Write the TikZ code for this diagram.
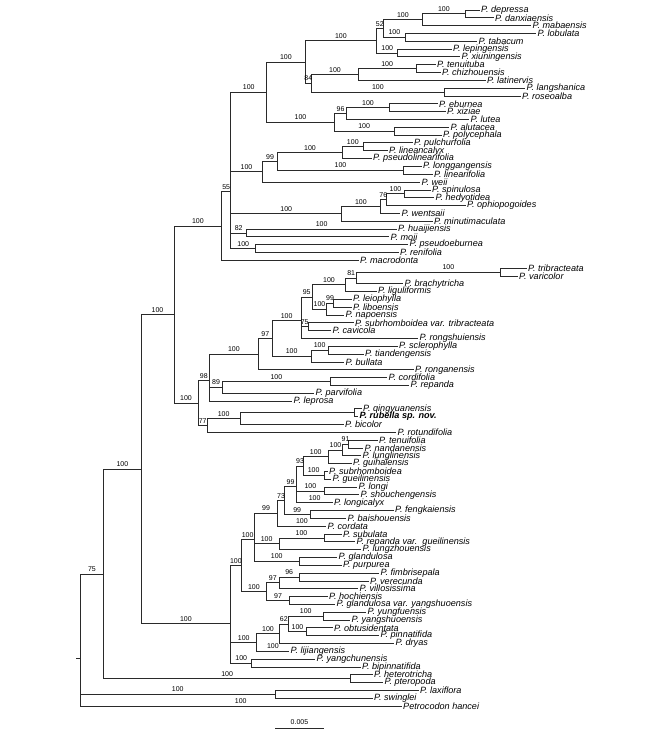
\documentclass[tikz,border=0pt]{standalone}
\usepackage{fontspec}
\setmainfont{Liberation Sans}
\definecolor{BranchGray}{HTML}{2A2A2A}
\tikzset{
  branch/.style={line width=0.8pt,draw=BranchGray},
  taxon/.style={anchor=west,inner sep=1.5pt,font=\fontsize{9.1}{10}\selectfont\itshape},
  newtaxon/.style={taxon,font=\fontsize{9.1}{10}\selectfont\bfseries\itshape},
  boot/.style={anchor=base,inner sep=0pt,yshift=2.4pt,font=\fontsize{7}{8}\selectfont},
}
\begin{document}
\begin{tikzpicture}[x=1pt,y=-1pt]
\useasboundingbox (0,0) rectangle (670,738);
% internal nodes
\coordinate (n1) at (465,13.9);
\coordinate (n2) at (422.7,19.8);
\coordinate (n3) at (405.7,37.4);
\coordinate (n4) at (383,28.6);
\coordinate (n5) at (397.7,53.0);
\coordinate (n6) at (376.7,40.8);
\coordinate (n7) at (416,68.7);
\coordinate (n8) at (358.3,74.5);
\coordinate (n9) at (444,92.1);
\coordinate (n10) at (311.7,83.3);
\coordinate (n11) at (305,62.0);
\coordinate (n12) at (389.3,107.8);
\coordinate (n13) at (346.7,113.6);
\coordinate (n14) at (394,131.2);
\coordinate (n15) at (334.3,122.4);
\coordinate (n16) at (266.7,92.2);
\coordinate (n17) at (363.3,146.9);
\coordinate (n18) at (342.3,152.7);
\coordinate (n19) at (403.3,170.3);
\coordinate (n20) at (277.7,161.5);
\coordinate (n21) at (262.3,171.8);
\coordinate (n22) at (404.3,193.8);
\coordinate (n23) at (386.7,199.7);
\coordinate (n24) at (380,206.5);
\coordinate (n25) at (341.7,213.8);
\coordinate (n26) at (246.7,232.9);
\coordinate (n27) at (255.7,248.5);
\coordinate (n28) at (230.7,191.8);
\coordinate (n29) at (221.7,226.0);
\coordinate (n30) at (500,272.0);
\coordinate (n31) at (356.7,277.9);
\coordinate (n32) at (345.7,284.7);
\coordinate (n33) at (333.3,303.3);
\coordinate (n34) at (326.7,309.1);
\coordinate (n35) at (312.3,296.9);
\coordinate (n36) at (308.3,326.7);
\coordinate (n37) at (301,320.7);
\coordinate (n38) at (328.3,350.2);
\coordinate (n39) at (311,356.1);
\coordinate (n40) at (272.3,338.4);
\coordinate (n41) at (258.3,354.0);
\coordinate (n42) at (330,381.5);
\coordinate (n43) at (222.7,387.3);
\coordinate (n44) at (209.5,380.8);
\coordinate (n45) at (354,412.7);
\coordinate (n46) at (240,418.6);
\coordinate (n47) at (207.3,425.5);
\coordinate (n48) at (198,403.1);
\coordinate (n49) at (174,314.6);
\coordinate (n50) at (348.3,444.0);
\coordinate (n51) at (342.7,449.9);
\coordinate (n52) at (328.3,456.7);
\coordinate (n53) at (324,475.3);
\coordinate (n54) at (303.3,466.0);
\coordinate (n55) at (324,490.9);
\coordinate (n56) at (296.7,486.5);
\coordinate (n57) at (310,514.4);
\coordinate (n58) at (284.3,500.5);
\coordinate (n59) at (277.7,513.3);
\coordinate (n60) at (324,537.9);
\coordinate (n61) at (279,543.7);
\coordinate (n62) at (299.3,561.3);
\coordinate (n63) at (254.3,539.4);
\coordinate (n64) at (299.3,577.0);
\coordinate (n65) at (279,582.8);
\coordinate (n66) at (289.3,600.4);
\coordinate (n67) at (266.7,591.6);
\coordinate (n68) at (241,565.5);
\coordinate (n69) at (323.3,616.1);
\coordinate (n70) at (306.7,631.7);
\coordinate (n71) at (288.3,623.9);
\coordinate (n72) at (279.3,633.7);
\coordinate (n73) at (256.7,642.4);
\coordinate (n74) at (251.7,663.0);
\coordinate (n75) at (230.7,623.6);
\coordinate (n76) at (141,469.1);
\coordinate (n77) at (350.4,678.6);
\coordinate (n78) at (103.8,573.9);
\coordinate (n79) at (275.6,694.3);
\coordinate (root) at (80,658.0);
\coordinate (rootstub) at (76,658.0);
% taxa
\node[taxon] (depressa) at (479.5,10.0) {P. depressa};
\node[taxon] (danxiaensis) at (493.5,17.8) {P. danxiaensis};
\node[taxon] (mabaensis) at (531,25.6) {P. mabaensis};
\node[taxon] (lobulata) at (536,33.5) {P. lobulata};
\node[taxon] (tabacum) at (477,41.3) {P. tabacum};
\node[taxon] (lepingensis) at (451.5,49.1) {P. lepingensis};
\node[taxon] (xiuningensis) at (460,56.9) {P. xiuningensis};
\node[taxon] (tenuituba) at (435.5,64.7) {P. tenuituba};
\node[taxon] (chizhouensis) at (440.5,72.6) {P. chizhouensis};
\node[taxon] (latinervis) at (485.5,80.4) {P. latinervis};
\node[taxon] (langshanica) at (525,88.2) {P. langshanica};
\node[taxon] (roseoalba) at (520.5,96.0) {P. roseoalba};
\node[taxon] (eburnea) at (437.5,103.8) {P. eburnea};
\node[taxon] (xiziae) at (445.5,111.7) {P. xiziae};
\node[taxon] (lutea) at (469,119.5) {P. lutea};
\node[taxon] (alutacea) at (449,127.3) {P. alutacea};
\node[taxon] (polycephala) at (441.5,135.1) {P. polycephala};
\node[taxon] (pulchurfolia) at (412.5,142.9) {P. pulchurfolia};
\node[taxon] (lineancalyx) at (387.5,150.8) {P. lineancalyx};
\node[taxon] (pseudolinearifolia) at (371.5,158.6) {P. pseudolinearifolia};
\node[taxon] (longgangensis) at (421.5,166.4) {P. longgangensis};
\node[taxon] (linearifolia) at (432.5,174.2) {P. linearifolia};
\node[taxon] (weii) at (420,182.0) {P. weii};
\node[taxon] (spinulosa) at (430.5,189.9) {P. spinulosa};
\node[taxon] (hedyotidea) at (434,197.7) {P. hedyotidea};
\node[taxon] (ophiopogoides) at (465.5,205.5) {P. ophiopogoides};
\node[taxon] (wentsaii) at (400,213.3) {P. wentsaii};
\node[taxon] (minutimaculata) at (432.5,221.1) {P. minutimaculata};
\node[taxon] (huaijiensis) at (396.5,229.0) {P. huaijiensis};
\node[taxon] (moii) at (389,236.8) {P. moii};
\node[taxon] (pseudoeburnea) at (408,244.6) {P. pseudoeburnea};
\node[taxon] (renifolia) at (398.5,252.4) {P. renifolia};
\node[taxon] (macrodonta) at (358.5,260.2) {P. macrodonta};
\node[taxon] (tribracteata) at (526.5,268.1) {P. tribracteata};
\node[taxon] (varicolor) at (517.5,275.9) {P. varicolor};
\node[taxon] (brachytricha) at (403,283.7) {P. brachytricha};
\node[taxon] (liguliformis) at (376.5,291.5) {P. liguliformis};
\node[taxon] (leiophylla) at (351.5,299.3) {P. leiophylla};
\node[taxon] (liboensis) at (351.5,307.2) {P. liboensis};
\node[taxon] (napoensis) at (344,315.0) {P. napoensis};
\node[taxon] (subrhomboideavar) at (353.5,322.8) {P. subrhomboidea var. tribracteata};
\node[taxon] (cavicola) at (331,330.6) {P. cavicola};
\node[taxon] (rongshuiensis) at (418,338.4) {P. rongshuiensis};
\node[taxon] (sclerophylla) at (397.5,346.3) {P. sclerophylla};
\node[taxon] (tiandengensis) at (363.5,354.1) {P. tiandengensis};
\node[taxon] (bullata) at (344,361.9) {P. bullata};
\node[taxon] (ronganensis) at (413.5,369.7) {P. ronganensis};
\node[taxon] (cordifolia) at (387,377.5) {P. cordifolia};
\node[taxon] (repanda) at (409,385.4) {P. repanda};
\node[taxon] (parvifolia) at (314,393.2) {P. parvifolia};
\node[taxon] (leprosa) at (292,401.0) {P. leprosa};
\node[taxon] (qingyuanensis) at (361.5,408.8) {P. qingyuanensis};
\node[newtaxon] (rubella) at (358,416.6) {P. rubella sp. nov.};
\node[taxon] (bicolor) at (343.5,424.5) {P. bicolor};
\node[taxon] (rotundifolia) at (396,432.3) {P. rotundifolia};
\node[taxon] (tenuifolia) at (377.5,440.1) {P. tenuifolia};
\node[taxon] (nandanensis) at (363,447.9) {P. nandanensis};
\node[taxon] (lunglinensis) at (361,455.7) {P. lunglinensis};
\node[taxon] (guihaiensis) at (351.5,463.6) {P. guihaiensis};
\node[taxon] (subrhomboidea) at (327.5,471.4) {P. subrhomboidea};
\node[taxon] (gueilinensis) at (331,479.2) {P. gueilinensis};
\node[taxon] (longi) at (357,487.0) {P. longi};
\node[taxon] (shouchengensis) at (359,494.8) {P. shouchengensis};
\node[taxon] (longicalyx) at (332.5,502.7) {P. longicalyx};
\node[taxon] (fengkaiensis) at (393.5,510.5) {P. fengkaiensis};
\node[taxon] (baishouensis) at (346,518.3) {P. baishouensis};
\node[taxon] (cordata) at (326,526.1) {P. cordata};
\node[taxon] (subulata) at (341.5,533.9) {P. subulata};
\node[taxon] (repandavar) at (355,541.8) {P. repanda var.\ \ gueilinensis};
\node[taxon] (lungzhouensis) at (361,549.6) {P. lungzhouensis};
\node[taxon] (glandulosa) at (337,557.4) {P. glandulosa};
\node[taxon] (purpurea) at (341.5,565.2) {P. purpurea};
\node[taxon] (fimbrisepala) at (379,573.0) {P. fimbrisepala};
\node[taxon] (verecunda) at (368.5,580.9) {P. verecunda};
\node[taxon] (villosissima) at (358,588.7) {P. villosissima};
\node[taxon] (hochiensis) at (327.5,596.5) {P. hochiensis};
\node[taxon] (glandulosavar) at (335,604.3) {P. glandulosa var. yangshuoensis};
\node[taxon] (yungfuensis) at (366,612.1) {P. yungfuensis};
\node[taxon] (yangshuoensis) at (350,620.0) {P. yangshuoensis};
\node[taxon] (obtusidentata) at (332.5,627.8) {P. obtusidentata};
\node[taxon] (pinnatifida) at (379,635.6) {P. pinnatifida};
\node[taxon] (dryas) at (394,643.4) {P. dryas};
\node[taxon] (lijiangensis) at (289,651.2) {P. lijiangensis};
\node[taxon] (yangchunensis) at (315,659.1) {P. yangchunensis};
\node[taxon] (bipinnatifida) at (360.5,666.9) {P. bipinnatifida};
\node[taxon] (heterotricha) at (372.5,674.7) {P. heterotricha};
\node[taxon] (pteropoda) at (383,682.5) {P. pteropoda};
\node[taxon] (laxiflora) at (418.5,690.3) {P. laxiflora};
\node[taxon] (swinglei) at (372.5,698.2) {P. swinglei};
\node[taxon] (hancei) at (401.5,706.0) {Petrocodon hancei};
% branches, top clade
\draw[branch] (n1) |- (depressa.west);
\draw[branch] (n1) |- (danxiaensis.west);
\draw[branch] (n2) |- (n1) node[boot,pos=.75]{100};
\draw[branch] (n2) |- (mabaensis.west);
\draw[branch] (n3) |- (lobulata.west);
\draw[branch] (n3) |- (tabacum.west);
\draw[branch] (n4) |- (n2) node[boot,pos=.75]{100};
\draw[branch] (n4) |- (n3) node[boot,pos=.75]{100};
\draw[branch] (n5) |- (lepingensis.west);
\draw[branch] (n5) |- (xiuningensis.west);
\draw[branch] (n6) |- (n4) node[boot,pos=.75]{52};
\draw[branch] (n6) |- (n5) node[boot,pos=.75]{100};
\draw[branch] (n7) |- (tenuituba.west);
\draw[branch] (n7) |- (chizhouensis.west);
\draw[branch] (n8) |- (n7) node[boot,pos=.75]{100};
\draw[branch] (n8) |- (latinervis.west);
\draw[branch] (n9) |- (langshanica.west);
\draw[branch] (n9) |- (roseoalba.west);
\draw[branch] (n10) |- (n8) node[boot,pos=.75]{100};
\draw[branch] (n10) |- (n9) node[boot,pos=.75]{100};
\draw[branch] (n11) |- (n6) node[boot,pos=.75]{100};
\draw[branch] (n11) |- (n10) node[boot,pos=.75]{84};
\draw[branch] (n12) |- (eburnea.west);
\draw[branch] (n12) |- (xiziae.west);
\draw[branch] (n13) |- (n12) node[boot,pos=.75]{100};
\draw[branch] (n13) |- (lutea.west);
\draw[branch] (n14) |- (alutacea.west);
\draw[branch] (n14) |- (polycephala.west);
\draw[branch] (n15) |- (n13) node[boot,pos=.75]{96};
\draw[branch] (n15) |- (n14) node[boot,pos=.75]{100};
\draw[branch] (n16) |- (n11) node[boot,pos=.75]{100};
\draw[branch] (n16) |- (n15) node[boot,pos=.75]{100};
\draw[branch] (n17) |- (pulchurfolia.west);
\draw[branch] (n17) |- (lineancalyx.west);
\draw[branch] (n18) |- (n17) node[boot,pos=.75]{100};
\draw[branch] (n18) |- (pseudolinearifolia.west);
\draw[branch] (n19) |- (longgangensis.west);
\draw[branch] (n19) |- (linearifolia.west);
\draw[branch] (n20) |- (n18) node[boot,pos=.75]{100};
\draw[branch] (n20) |- (n19) node[boot,pos=.75]{100};
\draw[branch] (n21) |- (n20) node[boot,pos=.75]{99};
\draw[branch] (n21) |- (weii.west);
\draw[branch] (n22) |- (spinulosa.west);
\draw[branch] (n22) |- (hedyotidea.west);
\draw[branch] (n23) |- (n22) node[boot,pos=.75]{100};
\draw[branch] (n23) |- (ophiopogoides.west);
\draw[branch] (n24) |- (n23) node[boot,pos=.75]{76};
\draw[branch] (n24) |- (wentsaii.west);
\draw[branch] (n25) |- (n24) node[boot,pos=.75]{100};
\draw[branch] (n25) |- (minutimaculata.west);
\draw[branch] (n26) |- (huaijiensis.west) node[boot,pos=.75]{100};
\draw[branch] (n26) |- (moii.west);
\draw[branch] (n27) |- (pseudoeburnea.west);
\draw[branch] (n27) |- (renifolia.west);
\draw[branch] (n28) |- (n16) node[boot,pos=.75]{100};
\draw[branch] (n28) |- (n21) node[boot,pos=.75]{100};
\draw[branch] (n28) |- (n25) node[boot,pos=.75]{100};
\draw[branch] (n28) |- (n26) node[boot,pos=.75]{82};
\draw[branch] (n28) |- (n27) node[boot,pos=.75]{100};
\draw[branch] (n29) |- (n28) node[boot,pos=.75]{55};
\draw[branch] (n29) |- (macrodonta.west);
% branches, middle clade
\draw[branch] (n30) |- (tribracteata.west);
\draw[branch] (n30) |- (varicolor.west);
\draw[branch] (n31) |- (n30) node[boot,pos=.82]{100};
\draw[branch] (n31) |- (brachytricha.west);
\draw[branch] (n32) |- (n31) node[boot,pos=.75]{81};
\draw[branch] (n32) |- (liguliformis.west);
\draw[branch] (n33) |- (leiophylla.west);
\draw[branch] (n33) |- (liboensis.west);
\draw[branch] (n34) |- (n33) node[boot,pos=.75]{99};
\draw[branch] (n34) |- (napoensis.west);
\draw[branch] (n35) |- (n32) node[boot,pos=.75]{100};
\draw[branch] (n35) |- (n34) node[boot,pos=.75]{100};
\draw[branch] (n36) |- (subrhomboideavar.west);
\draw[branch] (n36) |- (cavicola.west);
\draw[branch] (n37) |- (n35) node[boot,pos=.75]{95};
\draw[branch] (n37) |- (n36) node[boot,pos=.75]{75};
\draw[branch] (n37) |- (rongshuiensis.west);
\draw[branch] (n38) |- (sclerophylla.west);
\draw[branch] (n38) |- (tiandengensis.west);
\draw[branch] (n39) |- (n38) node[boot,pos=.75]{100};
\draw[branch] (n39) |- (bullata.west);
\draw[branch] (n40) |- (n37) node[boot,pos=.75]{100};
\draw[branch] (n40) |- (n39) node[boot,pos=.75]{100};
\draw[branch] (n41) |- (n40) node[boot,pos=.75]{97};
\draw[branch] (n41) |- (ronganensis.west);
\draw[branch] (n42) |- (cordifolia.west);
\draw[branch] (n42) |- (repanda.west);
\draw[branch] (n43) |- (n42) node[boot,pos=.75]{100};
\draw[branch] (n43) |- (parvifolia.west);
\draw[branch] (n44) |- (n41) node[boot,pos=.75]{100};
\draw[branch] (n44) |- (n43) node[boot,pos=.75]{89};
\draw[branch] (n44) |- (leprosa.west);
\draw[branch] (n45) |- (qingyuanensis.west);
\draw[branch] (n45) |- (rubella.west);
\draw[branch] (n46) |- (n45);
\draw[branch] (n46) |- (bicolor.west);
\draw[branch] (n47) |- (n46) node[boot,pos=.75]{100};
\draw[branch] (n47) |- (rotundifolia.west);
\draw[branch] (n48) |- (n44) node[boot,pos=.75]{98};
\draw[branch] (n48) |- (n47) node[boot,pos=.75]{77};
\draw[branch] (n49) |- (n29) node[boot,pos=.75]{100};
\draw[branch] (n49) |- (n48) node[boot,pos=.75]{100};
% branches, lower clade
\draw[branch] (n50) |- (tenuifolia.west);
\draw[branch] (n50) |- (nandanensis.west);
\draw[branch] (n51) |- (n50) node[boot,pos=.75]{91};
\draw[branch] (n51) |- (lunglinensis.west);
\draw[branch] (n52) |- (n51) node[boot,pos=.75]{100};
\draw[branch] (n52) |- (guihaiensis.west);
\draw[branch] (n53) |- (subrhomboidea.west);
\draw[branch] (n53) |- (gueilinensis.west);
\draw[branch] (n54) |- (n52) node[boot,pos=.75]{100};
\draw[branch] (n54) |- (n53) node[boot,pos=.75]{100};
\draw[branch] (n55) |- (longi.west);
\draw[branch] (n55) |- (shouchengensis.west);
\draw[branch] (n56) |- (n54) node[boot,pos=.75]{93};
\draw[branch] (n56) |- (n55) node[boot,pos=.75]{100};
\draw[branch] (n56) |- (longicalyx.west) node[boot,pos=.75]{100};
\draw[branch] (n57) |- (fengkaiensis.west);
\draw[branch] (n57) |- (baishouensis.west);
\draw[branch] (n58) |- (n56) node[boot,pos=.75]{99};
\draw[branch] (n58) |- (n57) node[boot,pos=.75]{99};
\draw[branch] (n59) |- (n58) node[boot,pos=.75]{73};
\draw[branch] (n59) |- (cordata.west) node[boot,pos=.75]{100};
\draw[branch] (n60) |- (subulata.west);
\draw[branch] (n60) |- (repandavar.west);
\draw[branch] (n61) |- (n60) node[boot,pos=.75]{100};
\draw[branch] (n61) |- (lungzhouensis.west);
\draw[branch] (n62) |- (glandulosa.west);
\draw[branch] (n62) |- (purpurea.west);
\draw[branch] (n63) |- (n59) node[boot,pos=.75]{99};
\draw[branch] (n63) |- (n61) node[boot,pos=.75]{100};
\draw[branch] (n63) |- (n62) node[boot,pos=.75]{100};
\draw[branch] (n64) |- (fimbrisepala.west);
\draw[branch] (n64) |- (verecunda.west);
\draw[branch] (n65) |- (n64) node[boot,pos=.75]{96};
\draw[branch] (n65) |- (villosissima.west);
\draw[branch] (n66) |- (hochiensis.west);
\draw[branch] (n66) |- (glandulosavar.west);
\draw[branch] (n67) |- (n65) node[boot,pos=.75]{97};
\draw[branch] (n67) |- (n66) node[boot,pos=.75]{97};
\draw[branch] (n68) |- (n63) node[boot,pos=.75]{100};
\draw[branch] (n68) |- (n67) node[boot,pos=.75]{100};
\draw[branch] (n69) |- (yungfuensis.west);
\draw[branch] (n69) |- (yangshuoensis.west);
\draw[branch] (n70) |- (obtusidentata.west);
\draw[branch] (n70) |- (pinnatifida.west);
\draw[branch] (n71) |- (n69) node[boot,pos=.75]{100};
\draw[branch] (n71) |- (n70) node[boot,pos=.75]{100};
\draw[branch] (n72) |- (n71) node[boot,pos=.75]{62};
\draw[branch] (n72) |- (dryas.west);
\draw[branch] (n73) |- (n72) node[boot,pos=.75]{100};
\draw[branch] (n73) |- (lijiangensis.west) node[boot,pos=.75]{100};
\draw[branch] (n74) |- (yangchunensis.west);
\draw[branch] (n74) |- (bipinnatifida.west);
\draw[branch] (n75) |- (n68) node[boot,pos=.75]{100};
\draw[branch] (n75) |- (n73) node[boot,pos=.75]{100};
\draw[branch] (n75) |- (n74) node[boot,pos=.75]{100};
\draw[branch] (n76) |- (n49) node[boot,pos=.75]{100};
\draw[branch] (n76) |- (n75) node[boot,pos=.75]{100};
\draw[branch] (n77) |- (heterotricha.west);
\draw[branch] (n77) |- (pteropoda.west);
\draw[branch] (n78) |- (n76) node[boot,pos=.75]{100};
\draw[branch] (n78) |- (n77) node[boot,pos=.75]{100};
\draw[branch] (n79) |- (laxiflora.west);
\draw[branch] (n79) |- (swinglei.west);
% root
\draw[branch] (root) |- (n78) node[boot,pos=.75]{75};
\draw[branch] (root) |- (n79) node[boot,pos=.75]{100};
\draw[branch] (root) |- (hancei.west) node[boot,pos=.75]{100};
\draw[branch] (rootstub) -- (root);
% scale bar
\coordinate (bar0) at (275,728.5);
\coordinate (bar1) at (324,728.5);
\draw[branch] (bar0) -- (bar1) node[boot,midway,yshift=1.5pt]{0.005};
\end{tikzpicture}
\end{document}
